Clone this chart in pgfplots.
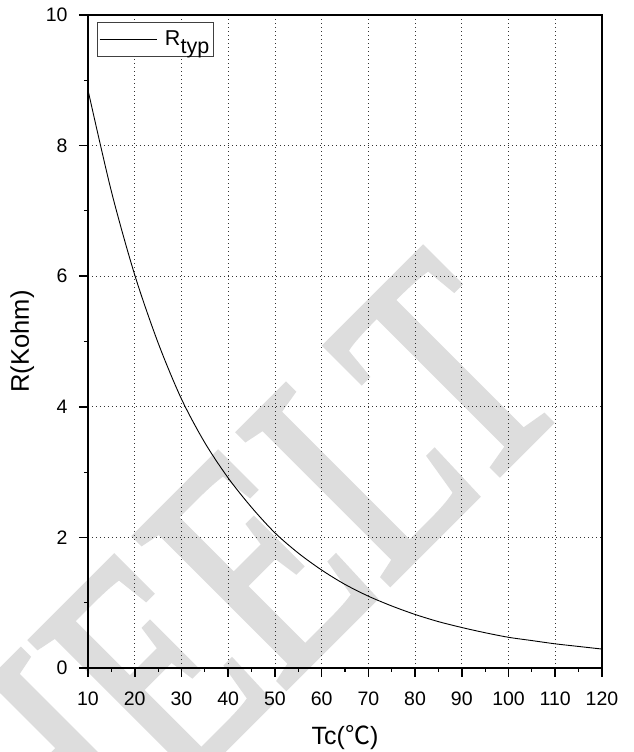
\documentclass[border=0pt]{standalone}
\usepackage{fontspec}
\setmainfont{Liberation Sans}
\newfontfamily\cjk{Noto Sans CJK SC}
\newfontfamily\wmfont[FakeBold=2]{Liberation Serif}
\usepackage{graphicx}
\usepackage{pgfplots}
\pgfplotsset{compat=1.18}
\definecolor{wm}{RGB}{221,221,221}

\begin{document}
\begin{tikzpicture}[x=1pt,y=1pt]
\useasboundingbox (-88,-84) rectangle (545,668);
% watermark behind the plot
\begin{scope}
\clip (-88,-84) rectangle (545,668);
\node[anchor=base east, rotate=45, inner sep=0pt, text=wm] at (489,272)
  {\wmfont\fontsize{325}{325}\selectfont\scalebox{0.74}[1]{HEELT}};
\end{scope}
\begin{axis}[
    at={(0,0)}, anchor=south west,
    scale only axis,
    width=514pt, height=653pt,
    xmin=10, xmax=120, ymin=0, ymax=10,
    xtick={10,20,...,120}, ytick={0,2,...,10},
    minor x tick num=1, minor y tick num=1,
    tick align=outside, xtick pos=bottom, ytick pos=left,
    major tick length=9pt, minor tick length=4pt,
    axis line style={line width=1.6pt},
    major tick style={black, line width=1.6pt},
    minor tick style={black, line width=1.1pt},
    grid=major,
    major grid style={black!80, line width=0.8pt, dash pattern=on 0.8pt off 3.2pt},
    ticklabel style={font=\fontsize{19.5}{21}\selectfont},
    xticklabel shift=11pt, yticklabel shift=8pt,
    /pgf/number format/assume math mode=true,
    xlabel={Tc({\cjk ℃})}, ylabel={R(Kohm)},
    every axis x label/.style={at={(axis description cs:0.5,-0.107)}, anchor=center,
        font=\fontsize{25}{27}\selectfont},
    every axis y label/.style={at={(axis description cs:-0.128,0.5)}, anchor=center,
        rotate=90, font=\fontsize{25.5}{27}\selectfont},
    legend style={at={(axis description cs:0,1)}, anchor=north west,
        xshift=8.7pt, yshift=-6.7pt, draw=black!75, line width=0.8pt,
        inner xsep=2pt, inner ysep=7pt,
        font=\fontsize{21.5}{24}\selectfont},
    legend image code/.code={\draw[#1] (0pt,0pt) -- (57pt,0pt);},
]
\addplot[black, line width=0.9pt, smooth] coordinates {
    (10,8.85) (15,7.30) (20,6.02) (25,4.98) (30,4.12) (35,3.45)
    (40,2.91) (45,2.46) (50,2.07) (55,1.76) (60,1.50) (65,1.28)
    (70,1.10) (75,0.95) (80,0.82) (85,0.71) (90,0.62) (95,0.54)
    (100,0.47) (105,0.42) (110,0.37) (115,0.33) (120,0.29)
};
\legend{\hspace{6pt}R\raisebox{-7.5pt}{typ}}
\end{axis}
\end{tikzpicture}
\end{document}
